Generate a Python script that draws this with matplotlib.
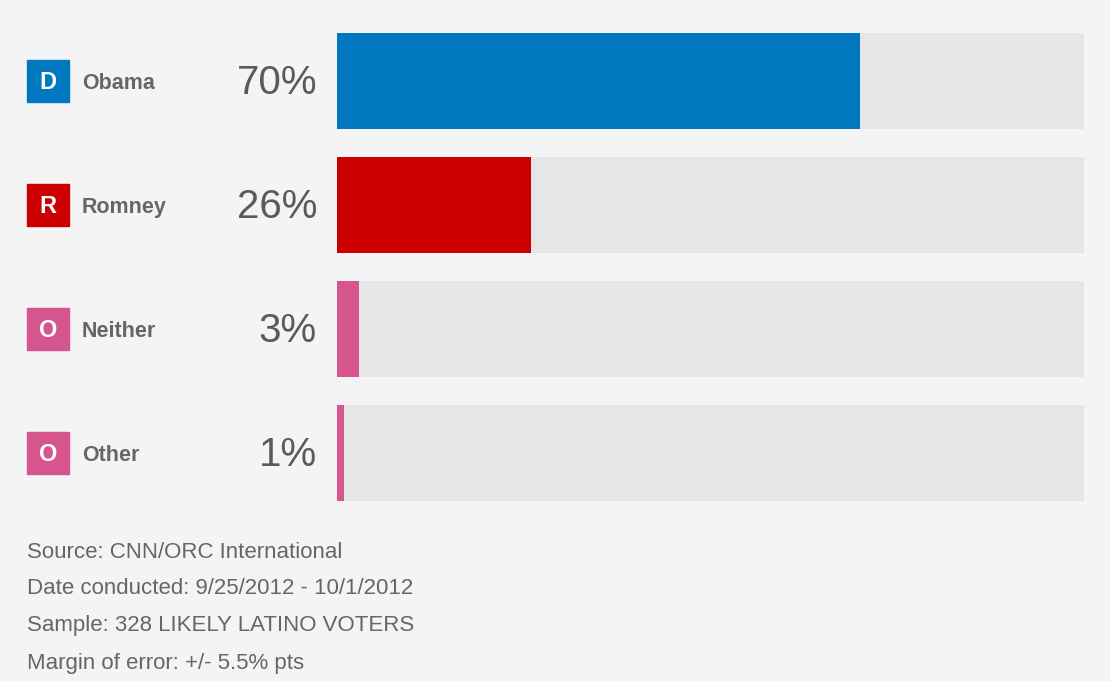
import matplotlib.pyplot as plt
from matplotlib.patches import Rectangle

names = ["Obama", "Romney", "Neither", "Other"]
badges = ["D", "R", "O", "O"]
values = [70, 26, 3, 1]
colors = ["#0077be", "#cc0000", "#d6558e", "#d6558e"]
notes = [
    "Source: CNN/ORC International",
    "Date conducted: 9/25/2012 - 10/1/2012",
    "Sample: 328 LIKELY LATINO VOTERS",
    "Margin of error: +/- 5.5% pts",
]

W, H = 1110, 681
bg = "#f4f4f4"
fig = plt.figure(figsize=(W / 100, H / 100), dpi=100, facecolor=bg)

# bar area
h = 96 / 124
ax = fig.add_axes([337 / W, 1 - 501 / H, 747 / W, 468 / H])
ax.set_facecolor(bg)
ax.set_xlim(0, 100)
ax.set_ylim(len(values) - 1 + h / 2, -h / 2)
ax.axis("off")
rows = range(len(values))
ax.barh(rows, [100] * len(values), height=h, color="#e6e6e6", left=0)
ax.barh(rows, values, height=h, color=colors, left=0)

# labels on the left, in the same row coordinates
lab = fig.add_axes([0, 1 - 501 / H, 337 / W, 468 / H])
lab.set_xlim(0, 337)
lab.set_ylim(len(values) - 1 + h / 2, -h / 2)
lab.axis("off")
sq = 42 / 124
for i, (n, b, v, c) in enumerate(zip(names, badges, values, colors)):
    lab.add_patch(Rectangle((27, i - sq / 2), 42, sq, color=c))
    lab.text(48, i + 0.01, b, color="white", fontsize=17, fontweight="bold",
             family="Liberation Sans", ha="center", va="center")
    lab.text(82, i + 0.02, n, color="#666666", fontsize=15.5, fontweight="bold",
             family="Liberation Sans", ha="left", va="center")
    lab.text(317, i + 0.015, f"{v}%", color="#5a5a5a", fontsize=29,
             family="Liberation Sans", ha="right", va="center")

for k, t in enumerate(notes):
    fig.text(27 / W, 1 - (552 + 37 * k) / H, t, color="#666666", fontsize=16,
             family="Liberation Sans", ha="left", va="center")

fig.savefig("out.png", dpi=100, facecolor=bg)
